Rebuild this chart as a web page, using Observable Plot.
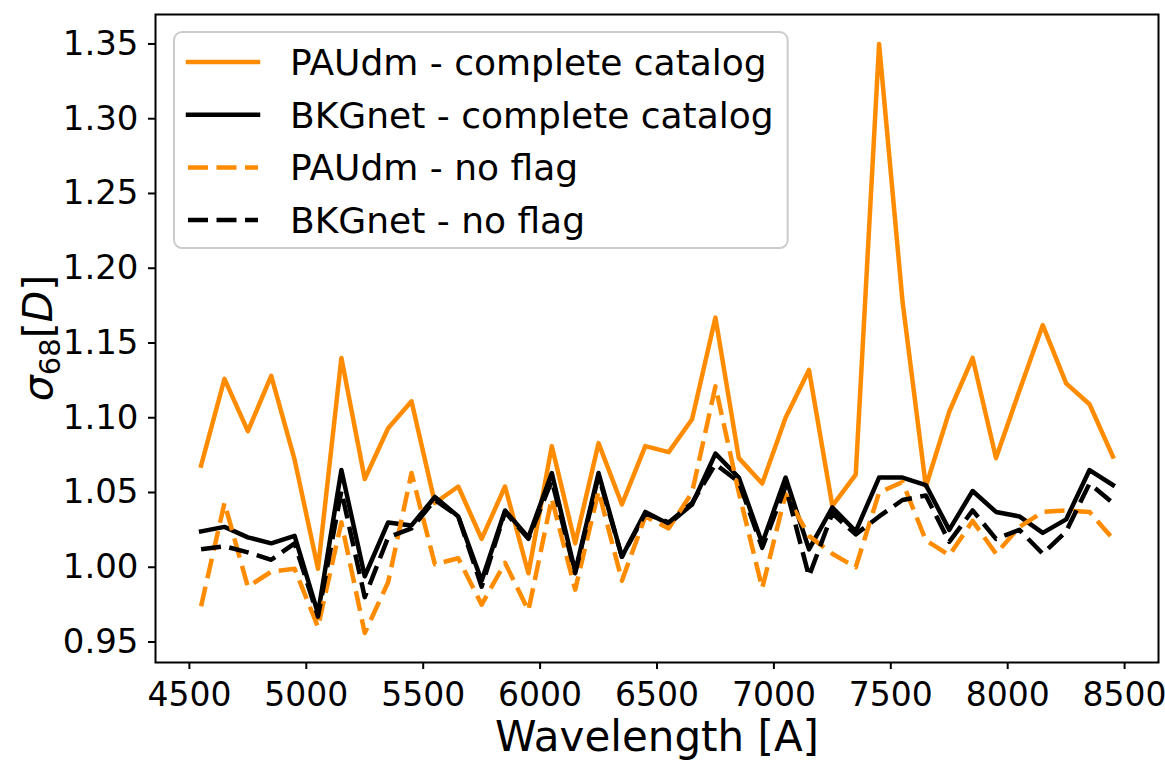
<!DOCTYPE html>
<html>
<head>
<meta charset="utf-8">
<script src="https://cdn.jsdelivr.net/npm/d3@7"></script>
<script src="https://cdn.jsdelivr.net/npm/@observablehq/plot@0.6"></script>
<style>
  html, body { margin: 0; padding: 0; background: #fff; }
  #chart svg { display: block; }
</style>
</head>
<body>
<div id="chart"></div>
<script>
// Central wavelength of each narrow band [A]
const wavelengths = [
  4550, 4650, 4750, 4850, 4950, 5050, 5150, 5250, 5350, 5450,
  5550, 5650, 5750, 5850, 5950, 6050, 6150, 6250, 6350, 6450,
  6550, 6650, 6750, 6850, 6950, 7050, 7150, 7250, 7350, 7450,
  7550, 7650, 7750, 7850, 7950, 8050, 8150, 8250, 8350, 8450
];

// sigma_68 of the normalised flux difference D, per band
const paudmComplete = [
  1.068, 1.126, 1.091, 1.128, 1.072, 0.999, 1.140, 1.059, 1.093, 1.111,
  1.043, 1.054, 1.019, 1.054, 0.996, 1.081, 1.016, 1.083, 1.042, 1.081,
  1.077, 1.099, 1.167, 1.073, 1.056, 1.100, 1.132, 1.041, 1.062, 1.350,
  1.178, 1.054, 1.104, 1.140, 1.073, 1.118, 1.162, 1.123, 1.109, 1.074
];
const bkgnetComplete = [
  1.024, 1.027, 1.020, 1.016, 1.021, 0.969, 1.065, 0.994, 1.030, 1.028,
  1.047, 1.034, 0.991, 1.038, 1.020, 1.063, 0.997, 1.063, 1.007, 1.037,
  1.029, 1.042, 1.076, 1.060, 1.016, 1.060, 1.012, 1.040, 1.024, 1.060,
  1.060, 1.055, 1.025, 1.051, 1.037, 1.034, 1.023, 1.032, 1.065, 1.055
];
const paudmNoFlag = [
  0.974, 1.043, 0.987, 0.997, 0.999, 0.960, 1.030, 0.956, 0.990, 1.063,
  1.002, 1.006, 0.975, 1.003, 0.971, 1.046, 0.985, 1.051, 0.991, 1.034,
  1.026, 1.050, 1.121, 1.050, 0.986, 1.049, 1.021, 1.009, 1.000, 1.050,
  1.057, 1.018, 1.008, 1.031, 1.009, 1.027, 1.037, 1.038, 1.037, 1.019
];
const bkgnetNoFlag = [
  1.012, 1.014, 1.010, 1.005, 1.016, 0.967, 1.051, 0.980, 1.020, 1.026,
  1.045, 1.034, 0.987, 1.037, 1.019, 1.058, 0.996, 1.061, 1.007, 1.036,
  1.030, 1.043, 1.069, 1.057, 1.013, 1.054, 0.994, 1.036, 1.022, 1.034,
  1.045, 1.048, 1.017, 1.038, 1.019, 1.025, 1.009, 1.024, 1.056, 1.043
];

const seriesNames = [
  "PAUdm - complete catalog",
  "BKGnet - complete catalog",
  "PAUdm - no flag",
  "BKGnet - no flag"
];

const xTicks = [4500, 5000, 5500, 6000, 6500, 7000, 7500, 8000, 8500];
const yTicks = [0.95, 1.00, 1.05, 1.10, 1.15, 1.20, 1.25, 1.30, 1.35];

const ORANGE = "#ff8c00";
const BLACK = "#000000";
const DASH = "20 8.5";

const series = [
  {name: seriesNames[0], values: paudmComplete, color: ORANGE, dash: null},
  {name: seriesNames[1], values: bkgnetComplete, color: BLACK, dash: null},
  {name: seriesNames[2], values: paudmNoFlag, color: ORANGE, dash: DASH},
  {name: seriesNames[3], values: bkgnetNoFlag, color: BLACK, dash: DASH}
];

const rowsOf = (s) => wavelengths.map((w, i) => ({w, v: s.values[i], series: s.name}));

// Axis limits with a 5% margin around the data
const allX = d3.extent(wavelengths);
const allY = d3.extent(series.flatMap((s) => s.values));
const padX = (allX[1] - allX[0]) * 0.05;
const padY = (allY[1] - allY[0]) * 0.05;

const W = 1165, H = 763;
const M = {top: 14, right: 7, bottom: 101, left: 155};
const FONT = "DejaVu Sans";

const chart = Plot.plot({
  width: W,
  height: H,
  marginTop: M.top,
  marginRight: M.right,
  marginBottom: M.bottom,
  marginLeft: M.left,
  style: {fontFamily: FONT, fontSize: "34px", color: "black", background: "white", overflow: "visible"},
  x: {domain: [allX[0] - padX, allX[1] + padX]},
  y: {domain: [allY[0] - padY, allY[1] + padY]},
  marks: [
    Plot.axisX({ticks: xTicks, tickFormat: d3.format("d"), tickSize: 7, tickPadding: 13,
                fontSize: 33, label: null, strokeWidth: 2}),
    Plot.axisY({ticks: yTicks, tickFormat: d3.format(".2f"), tickSize: 7, tickPadding: 10,
                fontSize: 34, label: null, strokeWidth: 2}),
    ...series.map((s) => Plot.line(rowsOf(s), {
      x: "w", y: "v", stroke: s.color, strokeWidth: 4.5,
      strokeDasharray: s.dash, strokeLinejoin: "round",
      strokeLinecap: s.dash ? "butt" : "square"
    })),
    Plot.frame({stroke: "black", strokeWidth: 2}),
    Plot.text(["Wavelength [A]"], {frameAnchor: "bottom", lineAnchor: "top", dy: 59, fontSize: 42, fill: "black"})
  ]
});

document.getElementById("chart").appendChild(chart);

const svg = d3.select(chart);
const plotTop = M.top, plotBottom = H - M.bottom;

// y axis label: sigma_68[D]
const ylab = svg.append("text")
  .attr("transform", `translate(52,${(plotTop + plotBottom) / 2}) rotate(-90)`)
  .attr("text-anchor", "middle")
  .attr("font-family", FONT)
  .attr("font-size", 41)
  .attr("fill", "black");
ylab.append("tspan").attr("font-style", "italic").text("σ");
ylab.append("tspan").attr("font-size", 29).attr("dy", 8).text("68");
ylab.append("tspan").attr("dy", -8).text("[");
ylab.append("tspan").attr("font-style", "italic").text("D");
ylab.append("tspan").text("]");

// Legend box in the upper left corner of the axes
const lg = {x: M.left + 19, y: M.top + 18, rowH: 52.7, first: 30, handle: 70, textGap: 32, pad: 14};
const legend = svg.append("g")
  .attr("font-family", FONT).attr("font-size", 36).attr("text-anchor", "start");
const box = legend.append("rect")
  .attr("x", lg.x).attr("y", lg.y).attr("rx", 8).attr("ry", 8)
  .attr("fill", "white").attr("fill-opacity", 0.8)
  .attr("stroke", "#cccccc").attr("stroke-width", 2);
let maxLen = 0;
series.forEach((s, i) => {
  const cy = lg.y + lg.first + i * lg.rowH;
  const x0 = lg.x + lg.pad;
  legend.append("line")
    .attr("x1", x0).attr("x2", x0 + lg.handle).attr("y1", cy).attr("y2", cy)
    .attr("stroke", s.color).attr("stroke-width", 4.5)
    .attr("stroke-dasharray", s.dash)
    .attr("stroke-linecap", s.dash ? "butt" : "square");
  const t = legend.append("text")
    .attr("x", x0 + lg.handle + lg.textGap).attr("y", cy).attr("dy", "0.36em")
    .attr("text-anchor", "start")
    .attr("fill", "black").text(s.name);
  maxLen = Math.max(maxLen, t.node().getComputedTextLength());
});
box.attr("width", lg.pad + lg.handle + lg.textGap + maxLen + lg.pad)
   .attr("height", lg.first * 2 + (series.length - 1) * lg.rowH - 2);
</script>
</body>
</html>
